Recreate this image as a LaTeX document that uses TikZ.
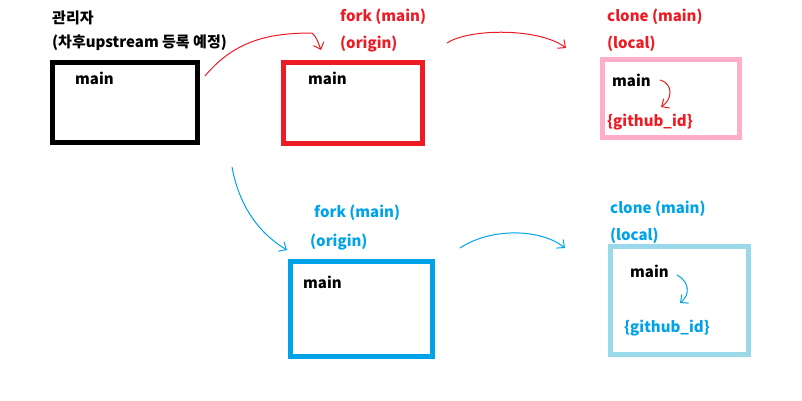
\documentclass[tikz,border=0pt]{standalone}
\usepackage{fontspec}
\setmainfont{Noto Sans CJK KR}
\usepackage{tikz}
\usetikzlibrary{arrows.meta,positioning}
\definecolor{paintred}{HTML}{ED1C24}
\definecolor{paintpink}{HTML}{FFAEC9}
\definecolor{paintblue}{HTML}{00A2E8}
\definecolor{paintsky}{HTML}{99D9EA}

\begin{document}
\begin{tikzpicture}[x=1pt,y=-1pt,>={Straight Barb[length=6pt,width=11pt]},
  repo/.style={draw,line width=5pt,minimum width=#1},
  lbl/.style={anchor=west,font=\fontsize{15}{17}\selectfont\bfseries,inner sep=0pt},
  pen/.style={->,line width=1pt}]
  \useasboundingbox (0,0) rectangle (802,400);
  % upstream (admin)
  \node[lbl] (admintitle) at (52,18) {관리자};
  \node[lbl] (adminnote) at (52,43) {(차후upstream 등록 예정)};
  \node[repo=145pt,minimum height=80pt] (admin) at (125,102.5) {};
  \node[lbl] (adminmain) at (75,78) {main};
  % red fork and clone
  \node[lbl,paintred] (rforkt) at (340,17) {fork (main)};
  \node[lbl,paintred] (rforko) at (340,44) {(origin)};
  \node[repo=139pt,minimum height=81pt,paintred] (rfork) at (353,103) {};
  \node[lbl] (rforkmain) at (308,78) {main};
  \node[lbl,paintred] (rclonet) at (607,17) {clone (main)};
  \node[lbl,paintred] (rcloneo) at (607,44) {(local)};
  \node[repo=137pt,minimum height=78pt,paintpink] (rclone) at (671,98.5) {};
  \node[lbl] (rclonemain) at (612,80) {main};
  \node[lbl,paintred] (rcloneid) at (607,122) {\{github\_id\}};
  % blue fork and clone
  \node[lbl,paintblue] (bforkt) at (314,213) {fork (main)};
  \node[lbl,paintblue] (bforko) at (310,242) {(origin)};
  \node[repo=142pt,minimum height=95pt,paintblue] (bfork) at (361.5,309) {};
  \node[lbl] (bforkmain) at (303,282) {main};
  \node[lbl,paintblue] (bclonet) at (610,209) {clone (main)};
  \node[lbl,paintblue] (bcloneo) at (610,236) {(local)};
  \node[repo=138pt,minimum height=108pt,paintsky] (bclone) at (679.5,300.5) {};
  \node[lbl] (bclonemain) at (630,271) {main};
  \node[lbl,paintblue] (bcloneid) at (624,328) {\{github\_id\}};
  % arrow ends
  \coordinate (r1s) at (205,76);
  \coordinate (r1e) at (321,50);
  \coordinate (r2s) at (447,43);
  \coordinate (r2e) at (566,48);
  \coordinate (r3s) at (660,80);
  \coordinate (r3e) at (661,107);
  \coordinate (b1s) at (232,167);
  \coordinate (b1e) at (287,250);
  \coordinate (b2s) at (460,248);
  \coordinate (b2e) at (565,248);
  \coordinate (b3s) at (677,275);
  \coordinate (b3e) at (680,303);
  \draw[pen,paintred] (r1s) .. controls (235,40) and (270,33) .. (312,33)
    .. controls (316,36) and (318,42) .. (r1e);
  \draw[pen,paintred] (r2s) .. controls (470,28) and (540,28) .. (r2e);
  \draw[pen,paintred] (r3s) .. controls (674,84) and (672,100) .. (r3e);
  \draw[pen,paintblue] (b1s) .. controls (240,210) and (262,235) .. (b1e);
  \draw[pen,paintblue] (b2s) .. controls (490,228) and (540,228) .. (b2e);
  \draw[pen,paintblue] (b3s) .. controls (690,282) and (690,295) .. (b3e);
\end{tikzpicture}
\end{document}
